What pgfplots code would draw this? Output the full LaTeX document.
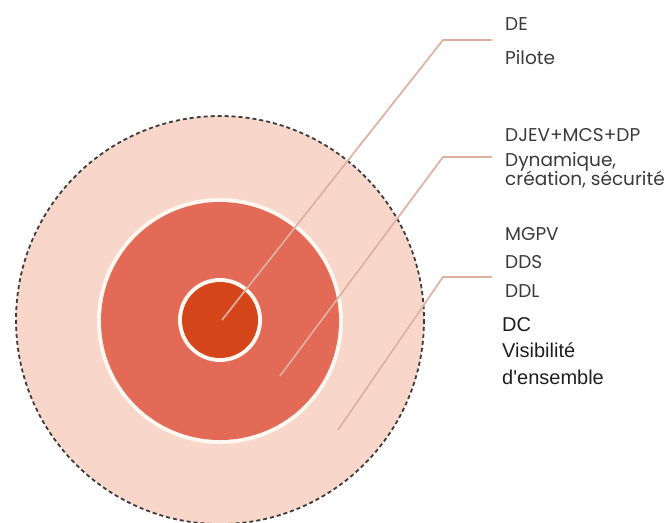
\documentclass[border=0pt]{standalone}
\usepackage{pgfplots}
\pgfplotsset{compat=1.18}
\usepackage{fontspec}
\setmainfont{Liberation Sans}
\newfontfamily\gothic{Poppins}
\definecolor{peach}{HTML}{F8D6C9}
\definecolor{midred}{HTML}{E36A57}
\definecolor{core}{HTML}{D4461A}
\definecolor{ring}{HTML}{FFF7F0}
\definecolor{leader}{HTML}{DFB0A2}
\definecolor{dashc}{HTML}{3C3C3C}
\definecolor{txtg}{HTML}{3A3A3A}
\definecolor{txtd}{HTML}{1E1E1E}
\begin{document}
\begin{tikzpicture}
\begin{axis}[width=671pt,height=522pt,scale only axis,
  xmin=0,xmax=671,ymin=0,ymax=522,y dir=reverse,
  hide axis,clip=false,anchor=south west,at={(0,0)}]
% rings (centre x, centre y, radius)
\fill[peach] (axis cs:220,320) circle[radius=204];
\draw[dashc,line width=1.8pt,dash pattern=on 4pt off 3pt] (axis cs:220,320) circle[radius=204];
\fill[ring] (axis cs:220,321) circle[radius=123];
\fill[midred] (axis cs:220,321) circle[radius=119];
\fill[ring] (axis cs:220,320) circle[radius=42];
\fill[core] (axis cs:220,320) circle[radius=38];
% leader lines
\addplot[leader,line width=1.7pt,no markers] coordinates {(222,320) (443,40) (492,40)};
\addplot[leader,line width=1.7pt,no markers] coordinates {(280,376) (443,157) (492,157)};
\addplot[leader,line width=1.7pt,no markers] coordinates {(338,430) (443,277) (492,277)};
% labels
\tikzset{g/.style={anchor=base west,inner sep=0pt,text=txtg,font=\gothic\fontsize{18.5}{20}\selectfont},
         a/.style={anchor=base west,inner sep=0pt,text=txtd,font=\fontsize{20}{24}\selectfont}}
\node[g] at (axis cs:505,30) {DE};
\node[g] at (axis cs:505,64) {Pilote};
\node[g] at (axis cs:505,141) {DJEV+MCS+DP};
\node[g] at (axis cs:505,166) {Dynamique,};
\node[g] at (axis cs:505,185) {création, sécurité};
\node[g] at (axis cs:505,240) {MGPV};
\node[g] at (axis cs:505,268) {DDS};
\node[g] at (axis cs:505,297) {DDL};
\node[a] at (axis cs:502,331) {DC};
\node[a] at (axis cs:502,357) {Visibilité};
\node[a] at (axis cs:502,384) {d\textquotesingle ensemble};
\end{axis}
\pgfresetboundingbox
\path (0,0) rectangle (671pt,522pt);
\end{tikzpicture}
\end{document}
